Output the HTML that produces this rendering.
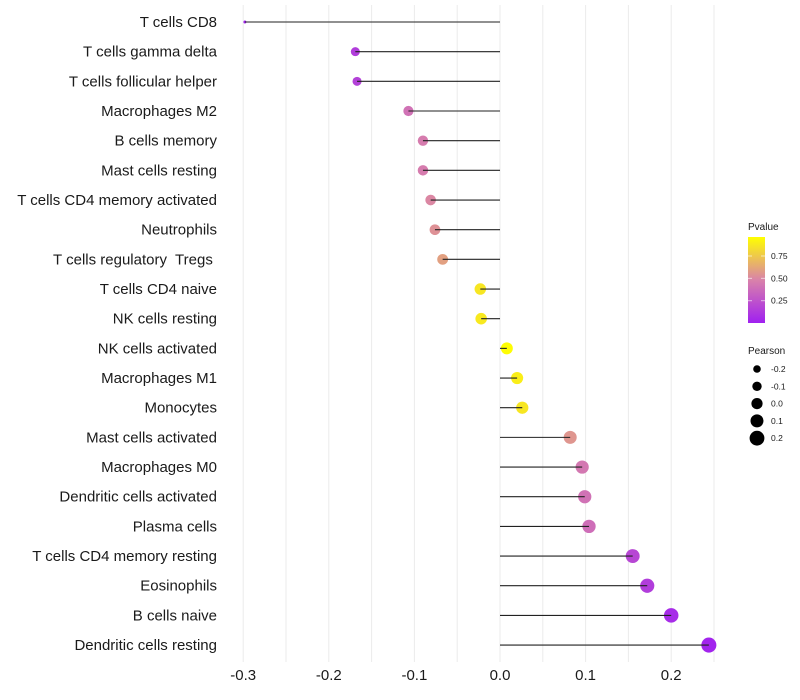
<!DOCTYPE html>
<html><head><meta charset="utf-8"><style>
body{margin:0;background:#fff;}
svg{display:block;font-family:"Liberation Sans",sans-serif;}
</style></head><body>
<svg id="chart" width="800" height="700"></svg>
<script>
const categories=["T cells CD8","T cells gamma delta","T cells follicular helper","Macrophages M2","B cells memory","Mast cells resting","T cells CD4 memory activated","Neutrophils","T cells regulatory  Tregs ","T cells CD4 naive","NK cells resting","NK cells activated","Macrophages M1","Monocytes","Mast cells activated","Macrophages M0","Dendritic cells activated","Plasma cells","T cells CD4 memory resting","Eosinophils","B cells naive","Dendritic cells resting"];
const pearson=[-0.298,-0.169,-0.167,-0.107,-0.090,-0.090,-0.081,-0.076,-0.067,-0.023,-0.022,0.008,0.020,0.026,0.082,0.096,0.099,0.104,0.155,0.172,0.200,0.244];
const pvalue=[0.01,0.15,0.17,0.42,0.47,0.47,0.52,0.56,0.62,0.9,0.91,0.99,0.93,0.9,0.58,0.45,0.42,0.4,0.2,0.15,0.06,0.02];
const xTicks=[-0.3,-0.2,-0.1,0.0,0.1,0.2];
const xTickLabels=["-0.3","-0.2","-0.1","0.0","0.1","0.2"];
const legendP=[0.75,0.50,0.25];
const legendR=[-0.2,-0.1,0.0,0.1,0.2];
const NS="http://www.w3.org/2000/svg";
const svg=document.getElementById('chart');
function el(t,a,p){const e=document.createElementNS(NS,t);for(const k in a)e.setAttribute(k,a[k]);(p||svg).appendChild(e);return e;}
const x=v=>500+v*856;
const y=i=>22+i*29.67;
const rad=v=>v<-0.25?1.5:Math.sqrt(8.8+87.8*(v+0.3));
function lerp(a,b,t){return a.map((c,i)=>Math.round(c+(b[i]-c)*t));}
function col(p){const s=[[160,32,240],[217,130,170],[255,255,0]];let c=p<0.5?lerp(s[0],s[1],p/0.5):lerp(s[1],s[2],(p-0.5)/0.5);return `rgb(${c.join(',')})`;}
for(let v=-0.3;v<=0.251;v+=0.05){const g=el('line',{x1:x(v),x2:x(v),y1:5,y2:662,stroke:'#ebebeb','stroke-width':1});
}
categories.forEach((c,i)=>{
const t=el('text',{x:217,y:y(i)+5,'text-anchor':'end','font-size':15,fill:'#1a1a1a'});t.textContent=c;t.style.whiteSpace='pre';

const d=el('circle',{cx:x(pearson[i]),cy:y(i),r:rad(pearson[i]),fill:col(pvalue[i])});

const l=el('line',{x1:x(0),x2:x(pearson[i]),y1:y(i),y2:y(i),stroke:'#222','stroke-width':1.1});

});
xTicks.forEach((v,i)=>{const t=el('text',{x:x(v),y:680,'text-anchor':'middle','font-size':15,fill:'#1a1a1a'});t.textContent=xTickLabels[i];
});
const defs=el('defs',{});const gr=el('linearGradient',{id:'pg',x1:0,y1:1,x2:0,y2:0},defs);
[0,0.25,0.5,0.75,1].forEach(s=>el('stop',{offset:s,'stop-color':col(s)},gr));
const lt=el('text',{x:748,y:230,'font-size':10,fill:'#1a1a1a'});lt.textContent='Pvalue';

const cb=el('rect',{x:748,y:237,width:17,height:86,fill:'url(#pg)'});

const py=p=>300.7-(p-0.25)*89.4;
legendP.forEach(p=>{el('line',{x1:748,x2:752,y1:py(p),y2:py(p),stroke:'#fff','stroke-opacity':0.6});el('line',{x1:761,x2:765,y1:py(p),y2:py(p),stroke:'#fff','stroke-opacity':0.6});
const t=el('text',{x:771,y:py(p)+3,'font-size':8.5,fill:'#1a1a1a'});t.textContent=p.toFixed(2);
});
const st=el('text',{x:748,y:354,'font-size':10,fill:'#1a1a1a'});st.textContent='Pearson';

legendR.forEach((r,i)=>{const cy=369+i*17.3;
const c=el('circle',{cx:757,cy:cy,r:3.8+i*0.9,fill:'#000'});

const t=el('text',{x:771,y:cy+3,'font-size':8.5,fill:'#1a1a1a'});t.textContent=r.toFixed(1);
});
</script>
</body></html>
